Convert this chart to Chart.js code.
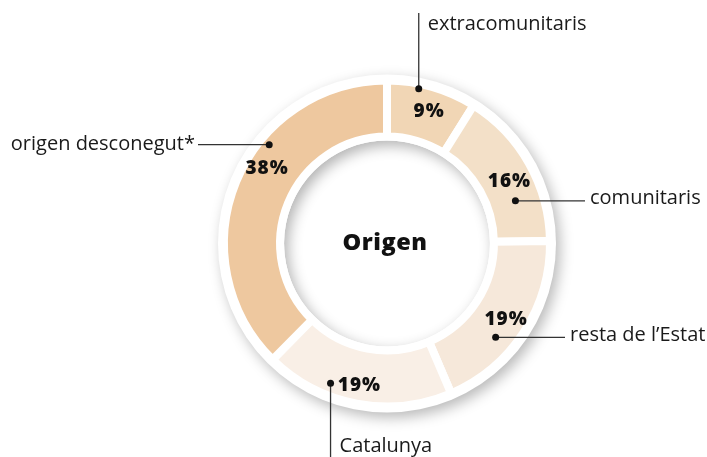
<!DOCTYPE html>
<html>
<head>
<meta charset="utf-8">
<script src="https://cdn.jsdelivr.net/npm/chart.js@4/dist/chart.umd.min.js"></script>
<style>
  html, body { margin: 0; padding: 0; background: #fff; }
  #wrap { width: 707px; height: 457px; position: relative; }
</style>
</head>
<body>
<div id="wrap"><canvas id="origenChart" width="707" height="457"></canvas></div>
<script>
// Chart data
const categories = ['extracomunitaris', 'comunitaris', 'resta de l\u2019Estat', 'Catalunya', 'origen desconegut*'];
const shares = [9, 16, 19, 19, 38];
const pctLabels = ['9%', '16%', '19%', '19%', '38%'];
const sliceColors = ['#f1d6b5', '#f3e0c8', '#f6e8da', '#f9efe6', '#eec89f'];
const centerTitle = 'Origen';

// Where the callouts sit (angle from 12 o'clock, clockwise; radius in px at outer radius 159)
const dotPos = [[11.6, 154], [71.6, 132], [130.8, 140], [202, 147], [310, 150]];
const pctPos = [[17.7, 135], [63, 134], [122.7, 138], [191, 141], [302, 138]];
// leader direction and end point
const leaders = [
    { dir: 'up', end: 13, textY: 24 },
    { dir: 'right', end: 585 },
    { dir: 'right', end: 565 },
    { dir: 'down', end: 457, textY: 446 },
    { dir: 'left', end: 198 }
];

const labelFont = '400 20px "Open Sans", sans-serif';
const pctFont = '800 19px "Open Sans", sans-serif';

function polar(arc, pos) {
    const k = arc.outerRadius / 159;
    const a = (pos[0] - 90) * Math.PI / 180;
    return { x: arc.x + Math.cos(a) * pos[1] * k, y: arc.y + Math.sin(a) * pos[1] * k };
}

// white ring + shadows behind the slices
const ringPlugin = {
    id: 'ring',
    beforeDatasetsDraw(chart) {
        const arc = chart.getDatasetMeta(0).data[0];
        if (!arc) return;
        const ctx = chart.ctx;
        const cx = arc.x, cy = arc.y;
        const outer = arc.outerRadius - 4 + 10;
        const inner = arc.innerRadius + 4 - 8;
        ctx.save();
        ctx.shadowColor = 'rgba(0,0,0,0.28)';
        ctx.shadowBlur = 14;
        ctx.shadowOffsetX = 4;
        ctx.shadowOffsetY = 5;
        ctx.fillStyle = '#fff';
        ctx.beginPath();
        ctx.arc(cx, cy, outer, 0, Math.PI * 2);
        ctx.fill();
        ctx.restore();

        // inner disk with inset shadow
        ctx.save();
        ctx.beginPath();
        ctx.arc(cx, cy, inner, 0, Math.PI * 2);
        ctx.clip();
        ctx.fillStyle = '#fff';
        ctx.fillRect(cx - inner, cy - inner, inner * 2, inner * 2);
        ctx.shadowColor = 'rgba(0,0,0,0.30)';
        ctx.shadowBlur = 14;
        ctx.shadowOffsetX = 4;
        ctx.shadowOffsetY = 5;
        ctx.strokeStyle = '#fff';
        ctx.lineWidth = 40;
        ctx.beginPath();
        ctx.arc(cx, cy, inner + 20, 0, Math.PI * 2);
        ctx.stroke();
        ctx.restore();
    }
};

// percentages, callouts and the centre title
const calloutPlugin = {
    id: 'callouts',
    afterDatasetsDraw(chart) {
        const meta = chart.getDatasetMeta(0);
        const arc = meta.data[0];
        const ctx = chart.ctx;
        ctx.save();
        ctx.fillStyle = '#111';
        ctx.font = '800 23.5px "Open Sans", sans-serif';
        ctx.textAlign = 'center';
        ctx.textBaseline = 'middle';
        ctx.letterSpacing = '0.5px';
        ctx.fillText(centerTitle, arc.x - 2, arc.y);

        meta.data.forEach((el, i) => {
            const p = polar(el, pctPos[i]);
            ctx.font = pctFont;
            ctx.letterSpacing = '1px';
            ctx.textAlign = 'center';
            ctx.fillStyle = '#111';
            ctx.fillText(pctLabels[i], p.x, p.y);

            const d = polar(el, dotPos[i]);
            const L = leaders[i];
            ctx.strokeStyle = '#333';
            ctx.lineWidth = 1.3;
            ctx.beginPath();
            ctx.moveTo(d.x, d.y);
            if (L.dir === 'up' || L.dir === 'down') ctx.lineTo(d.x, L.end);
            else ctx.lineTo(L.end, d.y);
            ctx.stroke();
            ctx.beginPath();
            ctx.arc(d.x, d.y, 3.5, 0, Math.PI * 2);
            ctx.fill();

            ctx.font = labelFont;
            ctx.letterSpacing = '0px';
            ctx.fillStyle = '#1a1a1a';
            if (L.dir === 'up' || L.dir === 'down') {
                ctx.textAlign = 'left';
                ctx.fillText(categories[i], d.x + 9, L.textY);
            } else if (L.dir === 'right') {
                ctx.textAlign = 'left';
                ctx.fillText(categories[i], L.end + 5, d.y - 2);
            } else {
                ctx.textAlign = 'right';
                ctx.fillText(categories[i], L.end - 3, d.y);
            }
        });
        ctx.restore();
    }
};

const ctx = document.getElementById('origenChart').getContext('2d');
const origenChart = new Chart(ctx, {
    type: 'doughnut',
    data: {
        labels: categories,
        datasets: [{
            data: shares,
            backgroundColor: sliceColors,
            borderColor: '#ffffff',
            borderWidth: 8,
            hoverOffset: 0
        }]
    },
    options: {
        responsive: false,
        animation: false,
        radius: 163,
        cutout: '65.6%',
        layout: { padding: { top: 84, bottom: 54, left: 150, right: 83 } },
        plugins: {
            legend: { display: false },
            tooltip: { enabled: false }
        }
    },
    plugins: [ringPlugin, calloutPlugin]
});
</script>
</body>
</html>
